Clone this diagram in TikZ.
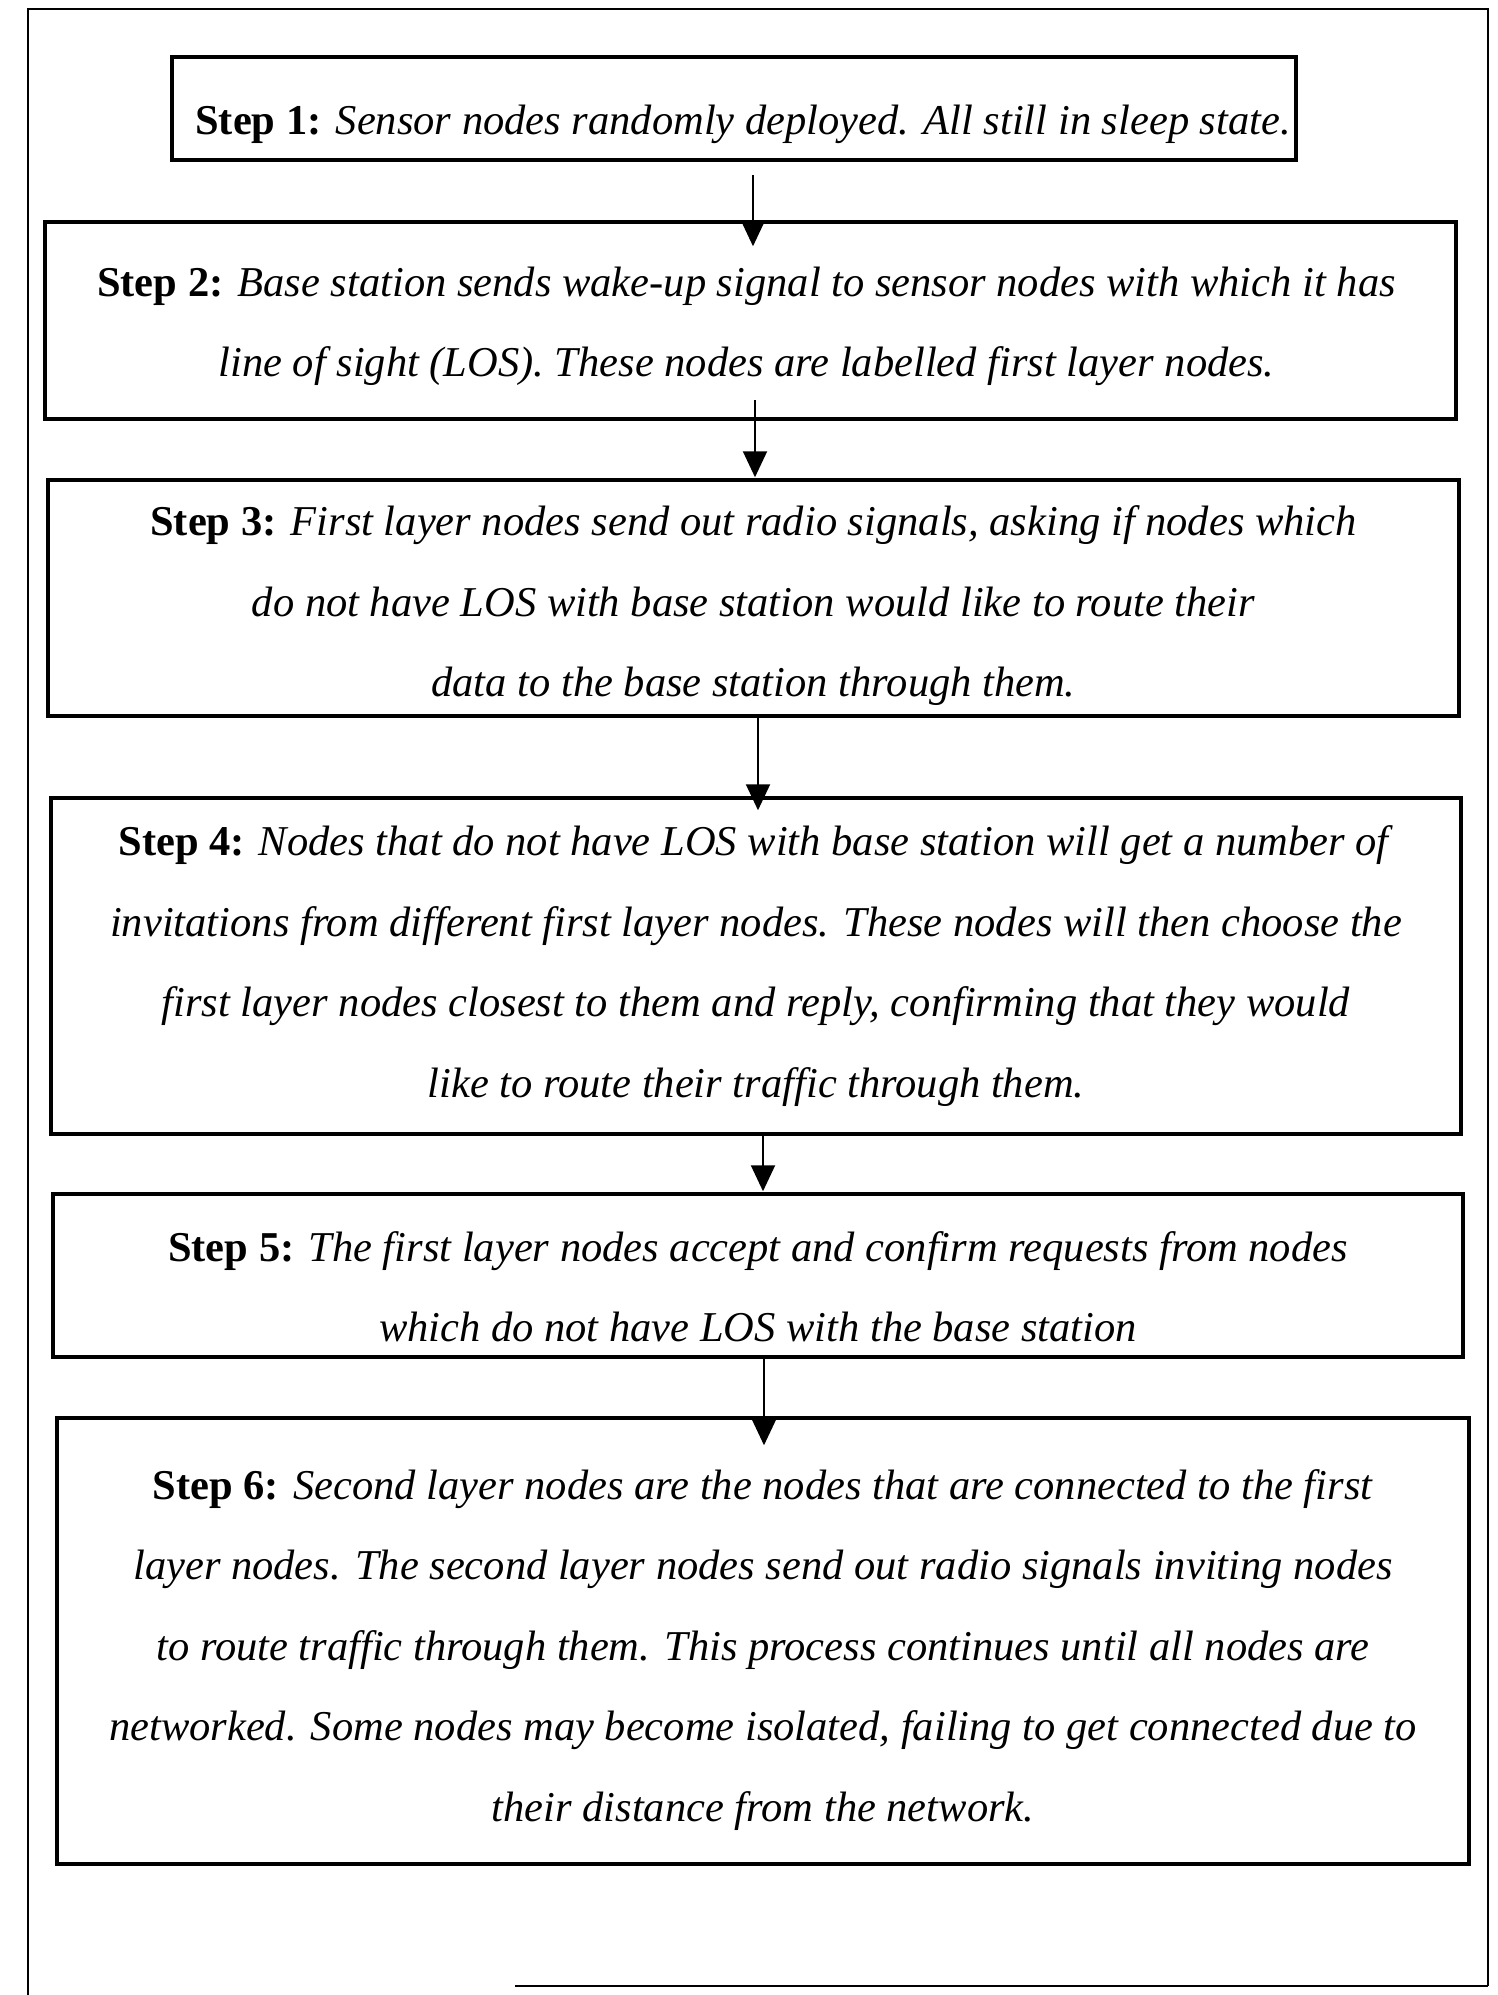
\documentclass[tikz,border=0pt]{standalone}
\usepackage{fontspec}
\setmainfont{Liberation Serif}
\usetikzlibrary{arrows.meta}
\begin{document}
\begin{tikzpicture}[x=1pt,y=-1pt,
  stepbox/.style={draw, line width=3.5pt, inner sep=0pt},
  steptext/.style={align=center, inner sep=0pt,
    font=\fontsize{42.5}{80.5}\selectfont},
  arr/.style={line width=2pt, -{Triangle[width=24pt,length=26pt]}},
  frame/.style={line width=2.5pt}]
\useasboundingbox (0,0) rectangle (1497,1995);
% outer frame
\draw[frame] (28,1995) -- (28,9) -- (1488,9) -- (1488,1986);
\draw[frame] (515,1986) -- (1488,1986);
% step boxes
\node[stepbox, minimum width=1124pt, minimum height=103pt] (b1) at (734,108.5) {};
\node[stepbox, minimum width=1411pt, minimum height=197pt] (b2) at (750.5,320.5) {};
\node[stepbox, minimum width=1411pt, minimum height=236pt] (b3) at (753.5,598) {};
\node[stepbox, minimum width=1410pt, minimum height=336pt] (b4) at (756,966) {};
\node[stepbox, minimum width=1410pt, minimum height=163pt] (b5) at (758,1275.5) {};
\node[stepbox, minimum width=1412pt, minimum height=446pt] (b6) at (763,1641) {};
% step texts
\node[steptext] (t1) at ([xshift=9pt,yshift=-16pt]b1.center)
  {\textbf{Step 1:} \textit{Sensor nodes randomly deployed. All still in sleep state.}};
\node[steptext] (t2) at ([xshift=-4pt,yshift=-6pt]b2.center)
  {\textbf{Step 2:} \textit{Base station sends wake-up signal to sensor nodes with which it has}\\
   \textit{line of sight (LOS). These nodes are labelled first layer nodes.}};
\node[steptext] (t3) at ([yshift=-8pt]b3.center)
  {\textbf{Step 3:} \textit{First layer nodes send out radio signals, asking if nodes which}\\
   \textit{do not have LOS with base station would like to route their}\\
   \textit{data to the base station through them.}};
\node[steptext] (t4) at (b4.center)
  {\textbf{Step 4:} \textit{Nodes that do not have LOS with base station will get a number of}\\
   \textit{invitations from different first layer nodes. These nodes will then choose the}\\
   \textit{first layer nodes closest to them and reply, confirming that they would}\\
   \textit{like to route their traffic through them.}};
\node[steptext] (t5) at ([yshift=-11pt]b5.center)
  {\textbf{Step 5:} \textit{The first layer nodes accept and confirm requests from nodes}\\
   \textit{which do not have LOS with the base station}};
\node[steptext] (t6) at ([yshift=-9pt]b6.center)
  {\textbf{Step 6:} \textit{Second layer nodes are the nodes that are connected to the first}\\
   \textit{layer nodes. The second layer nodes send out radio signals inviting nodes}\\
   \textit{to route traffic through them. This process continues until all nodes are}\\
   \textit{networked. Some nodes may become isolated, failing to get connected due to}\\
   \textit{their distance from the network.}};
% connectors
\draw[arr] ([xshift=19pt,yshift=-13pt]b1.south) -- ([xshift=2.5pt,yshift=-26pt]b2.north);
\draw[arr] ([xshift=4.5pt,yshift=21pt]b2.south) -- ([xshift=1.5pt,yshift=1pt]b3.north);
\draw[arr] ([xshift=4.5pt]b3.south) -- ([xshift=2pt,yshift=-14pt]b4.north);
\draw[arr] ([xshift=7pt]b4.south) -- ([xshift=5pt,yshift=1pt]b5.north);
\draw[arr] ([xshift=6pt]b5.south) -- ([xshift=1pt,yshift=-29pt]b6.north);
\end{tikzpicture}
\end{document}
